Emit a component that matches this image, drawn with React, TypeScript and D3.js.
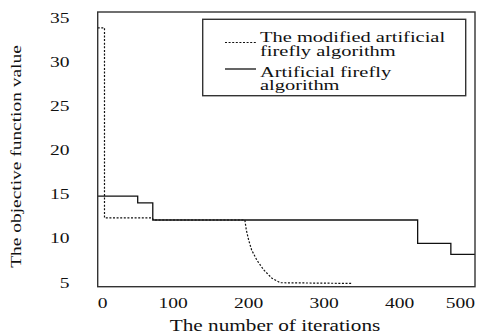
import React, { useMemo } from 'react'
import * as d3 from 'd3'

// iteration / objective value pairs
const modifiedIter = [0, 9, 9, 72, 74, 195, 197, 200, 204, 211, 220, 231, 242, 337]
const modifiedValue = [33.8, 33.8, 12.3, 12.3, 12.05, 12.05, 10.9, 9.8, 8.65, 7.5, 6.4, 5.45, 4.95, 4.87]

const standardIter = [0, 53, 53, 73, 73, 424, 424, 468, 468, 500]
const standardValue = [14.76, 14.76, 14.0, 14.0, 12.05, 12.05, 9.41, 9.41, 8.17, 8.17]

const xTicks = [0, 100, 200, 300, 400, 500]
const yTicks = [5, 10, 15, 20, 25, 30, 35]

const legendModified = ['The modified artificial', 'firefly algorithm']
const legendStandard = ['Artificial firefly', 'algorithm']

const xLabel = 'The number of iterations'
const yLabel = 'The objective function value'

const width = 484
const height = 336
const margin = { left: 97.7, right: 9, top: 12, bottom: 49.3 }
const serif = { fontFamily: '"Liberation Serif", "Times New Roman", serif' }
const digitW = 9.7

// the source figure's lettering is stretched sideways
const Label = ({ x, y, sx, rotate = 0, size, anchor = 'start', baseline, children }: {
    x: number, y: number, sx: number, rotate?: number, size: number,
    anchor?: string, baseline?: string, children: React.ReactNode
}) => (
    <text
        transform={`translate(${x} ${y}) rotate(${rotate}) scale(${sx} 1)`}
        textAnchor={anchor}
        dominantBaseline={baseline}
        fontSize={size}
        fill="#111"
        style={serif}
    >{children}</text>
)

export default function App() {
    const innerW = width - margin.left - margin.right
    const innerH = height - margin.top - margin.bottom

    const xScale = useMemo(() => (
        d3.scaleLinear().domain([0, 500]).range([0, innerW])
    ), [innerW])

    const yScale = useMemo(() => (
        d3.scaleLinear().domain([4.5, 35.6]).range([innerH, 0])
    ), [innerH])

    const line = d3.line<[number, number]>()
        .x(d => xScale(d[0]))
        .y(d => yScale(d[1]))

    const modifiedPath = line(modifiedIter.map((x, i) => [x, modifiedValue[i]]))
    const standardPath = line(standardIter.map((x, i) => [x, standardValue[i]]))

    return (
        <svg
            width={width}
            height={height}
            style={{ position: 'absolute', left: 0, top: 0, background: '#fff' }}
        >
            <g transform={`translate(${margin.left} ${margin.top})`}>
                <path d={standardPath ?? ''} fill="none" stroke="#111" strokeWidth={1.3} />
                <path d={modifiedPath ?? ''} fill="none" stroke="#111" strokeWidth={1.2} strokeDasharray="2,1.6" />
                <rect x={0} y={0} width={innerW} height={innerH} fill="none" stroke="#333" strokeWidth={1.4} />

                {yTicks.map(t => (
                    <Label key={t} x={-28.2} y={yScale(t)} sx={1.26} size={15.5}
                        anchor="end" baseline="central">{t}</Label>
                ))}
                {xTicks.map(t => {
                    const len = String(t).length * digitW
                    const cx = Math.max(len / 2, Math.min(innerW - len / 2, xScale(t)))
                    return (
                        <Label key={t} x={cx} y={innerH + 21.3} sx={1.26} size={15.5} anchor="middle">{t}</Label>
                    )
                })}
            </g>

            <Label x={275} y={331} sx={1.25} size={17} anchor="middle">{xLabel}</Label>
            <Label x={20.5} y={156.5} rotate={-90} sx={1.34} size={14.5} anchor="middle">{yLabel}</Label>

            <g>
                <rect x={202.7} y={19.3} width={263} height={76.4} fill="#fff" stroke="#333" strokeWidth={1.4} />
                <line x1={225} x2={256} y1={42.5} y2={42.5} stroke="#111" strokeWidth={1.2} strokeDasharray="2,1.6" />
                <line x1={225} x2={256} y1={69} y2={69} stroke="#111" strokeWidth={1.3} />
                {legendModified.map((s, i) => (
                    <Label key={s} x={260} y={41.7 + i * 14} sx={1.32} size={15.5}>{s}</Label>
                ))}
                {legendStandard.map((s, i) => (
                    <Label key={s} x={260} y={76.5 + i * 13.5} sx={1.32} size={15.5}>{s}</Label>
                ))}
            </g>
        </svg>
    )
}
